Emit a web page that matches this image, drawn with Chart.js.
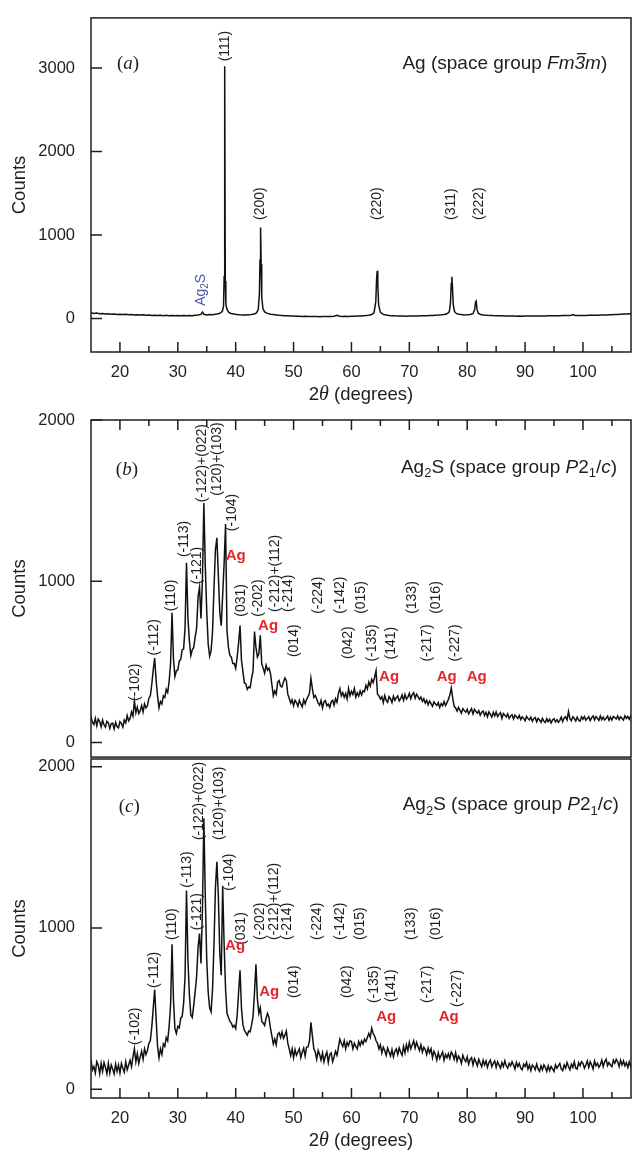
<!DOCTYPE html>
<html><head><meta charset="utf-8">
<script src="https://cdn.jsdelivr.net/npm/chart.js@4.4.0/dist/chart.umd.min.js"></script>
<style>
html,body{margin:0;padding:0;background:#fff;width:632px;height:1155px;overflow:hidden;position:relative}
canvas{position:absolute;left:0}
</style></head><body>
<canvas id="ca" width="632" height="410" style="top:0;width:632px;height:410px"></canvas>
<canvas id="cb" width="632" height="375" style="top:400px;width:632px;height:375px"></canvas>
<canvas id="cc" width="632" height="415" style="top:740px;width:632px;height:415px"></canvas>
<script>
// ---------- axes ----------
const xMin = 15, xMax = 108.3;
const xMajorTicks = [20,30,40,50,60,70,80,90,100];
const xMinorTicks = [25,35,45,55,65,75,85,95,105];
const yTicksA = [0,1000,2000,3000];
const yTicksB = [0,1000,2000];
const yTicksC = [0,1000,2000];

// ---------- panel (a): Ag ----------
const anglesA = [15,15.5,16,16.5,17,17.5,18,18.5,19,19.5,20,20.5,21,21.5,22,22.5,23,23.5,24,24.5,25,25.5,26,26.5,27,27.5,28,28.5,29,29.5,30,30.5,31,31.5,32,32.5,33,33.5,34,34.25,34.5,35,35.5,36,36.5,37,37.4,37.7,37.9,38.0,38.1,38.2,38.3,38.5,38.8,39.2,39.7,40.2,40.7,41.2,41.7,42.2,42.7,43.2,43.6,43.9,44.1,44.2,44.3,44.4,44.5,44.7,45.0,45.5,46,46.5,47,47.5,48,48.5,49,49.5,50,50.5,51,51.5,52,52.5,53,53.5,54,54.5,55,55.5,56,56.5,57,57.5,58,58.5,59,59.5,60,60.5,61,61.5,62,62.5,63,63.5,63.9,64.2,64.35,64.45,64.55,64.7,65,65.5,66,66.5,67,67.5,68,68.5,69,69.5,70,70.5,71,71.5,72,72.5,73,73.5,74,74.5,75,75.5,76,76.5,76.9,77.1,77.25,77.35,77.45,77.6,77.8,78.1,78.5,79,79.5,80,80.5,81,81.3,81.45,81.55,81.7,81.9,82.3,82.8,83.5,84,84.5,85,85.5,86,86.5,87,87.5,88,88.5,89,89.5,90,90.5,91,91.5,92,92.5,93,93.5,94,94.5,95,95.5,96,96.5,97,97.5,98,98.3,98.6,99,99.5,100,100.5,101,101.5,102,102.5,103,103.5,104,104.5,105,105.5,106,106.5,107,107.5,108,108.5];
const countsA = [70,62,66,58,62,55,58,52,56,50,53,48,51,46,49,44,47,42,45,40,43,38,41,36,40,35,39,34,38,33,37,33,36,33,38,35,40,42,50,78,52,44,48,46,52,58,68,90,150,500,3020,450,170,110,75,62,55,50,46,44,42,45,48,55,68,110,300,700,1090,650,260,120,80,62,52,48,44,40,38,35,34,31,30,28,29,26,27,25,26,24,25,23,25,24,26,24,28,40,28,26,27,26,28,27,30,30,33,36,40,48,70,200,480,572,420,160,75,50,42,38,35,33,32,30,31,29,30,30,31,32,33,34,35,37,38,40,42,45,50,58,80,180,420,500,380,160,85,62,52,48,44,45,48,58,110,200,209,110,65,50,44,40,38,36,35,34,33,32,31,30,30,29,30,29,30,30,31,30,31,31,32,32,33,33,34,34,35,36,37,38,40,48,38,38,37,38,38,39,40,40,41,42,43,44,45,46,48,50,52,54,56,58,60];

// ---------- panels (b) and (c): Ag2S, sampled every 0.25 deg from 15 deg ----------
const angleStart = 15, angleStep = 0.25;
const countsB = [
158,126,112,150, 104,146,130,98, 140,110,96,132, 122,88,118,120, 84,126,100,92,
130,118,96,140, 122,168,135,150, 190,165,258,185, 220,180,198,230, 190,240,215,228,
275,290,360,450, 524,385,290,215, 255,240,290,280, 330,310,380,490, 805,520,410,445,
450,505,515,575, 580,710,1115,770, 630,540,575,590, 655,710,905,962, 770,1010,1486,1090,
810,610,535,570, 690,960,1195,1270, 1040,810,725,915, 1110,1355,690,590, 540,530,490,490,
460,530,615,725, 510,440,370,365, 330,345,340,400, 445,688,590,530, 550,665,490,460,
430,480,450,462, 430,360,290,320, 300,375,385,350, 345,375,400,385, 300,275,245,265,
228,262,248,225, 262,238,222,265, 240,268,285,305, 398,335,280,292, 270,245,232,262,
215,252,260,228, 238,218,252,262, 232,272,250,305, 335,290,310,280, 305,270,335,290,
318,298,335,282, 308,288,320,295, 322,315,355,332, 375,350,392,372, 405,445,300,290,
270,285,248,292, 262,250,285,272, 248,288,262,278, 290,258,272,295, 262,298,270,282,
305,272,298,310, 275,300,285,268, 282,255,272,245, 262,235,258,242, 225,252,240,230,
248,218,242,228, 255,230,248,268, 295,338,275,225, 215,195,218,200, 182,210,198,188,
206,178,195,210, 178,206,192,182, 198,170,188,196, 168,188,160,190, 175,158,188,165,
190,162,175,186, 150,180,170,158, 178,150,165,172, 146,170,160,150, 168,142,160,150,
135,162,150,140, 158,132,148,155, 128,150,140,126, 150,132,124,148, 130,145,122,140,
148,128,142,125, 138,158,130,152, 160,140,192,148, 136,160,150,134, 158,140,132,160,
145,162,138,150, 160,136,155,165, 140,162,150,138, 165,142,158,140, 150,164,138,158,
140,162,155,146, 165,142,160,150, 140,166,150,162, 145,165,148];
const countsC = [
180,120,140,100, 170,150,95,160, 110,165,135,95, 160,100,150,125, 95,155,110,150,
100,160,130,105, 170,120,150,180, 140,200,252,170, 220,160,200,235, 185,250,215,240,
285,300,385,500, 617,440,265,195, 250,215,280,265, 320,300,390,520, 898,555,375,345,
390,380,440,450, 530,700,1232,800, 585,460,445,520, 605,700,880,965, 780,1110,1680,1190,
800,600,505,480, 620,900,1250,1410, 1200,850,706,1262, 900,620,470,445, 420,410,385,395,
375,455,600,737, 500,400,365,350, 335,360,355,400, 450,600,775,560, 470,505,420,410,
395,440,470,445, 380,330,280,310, 275,340,350,320, 355,315,335,360, 285,250,208,250,
195,245,210,230, 250,195,230,255, 205,260,262,300, 415,330,250,230, 185,240,215,180,
225,170,205,230, 165,215,225,170, 200,235,210,260, 310,285,265,300, 250,290,270,300,
295,250,285,265, 250,295,270,300, 280,310,295,320, 345,320,378,345, 330,300,285,250,
275,225,260,240, 210,255,230,205, 245,200,235,250, 215,255,230,210, 265,225,275,240,
290,250,275,300, 255,290,265,240, 275,230,260,245, 215,255,225,250, 195,235,215,180,
225,190,210,230, 180,215,195,220, 190,230,215,185, 225,175,205,190, 160,210,185,170,
200,155,185,195, 150,190,170,145, 185,160,140,180, 150,175,135,165, 180,140,160,175,
135,170,150,130, 165,140,175,145, 130,160,145,170, 150,125,165,140, 160,130,120,155,
140,165,125,150, 115,150,140,120, 155,125,110,145, 120,150,135,110, 145,115,140,125,
110,150,130,145, 160,125,115,150, 130,165,140,120, 155,135,170,130, 125,165,145,170,
160,130,150,175, 135,170,150,125, 175,145,160,135, 150,180,140,170, 185,145,165,150,
140,180,160,185, 170,140,180,150, 175,145,165,135, 170,140,165];

// ---------- reflection labels: [text, angle, counts at text start] ----------
const peakLabelsA = [['(111)',38.1,3080],['(200)',44.3,1180],['(220)',64.4,1180],['(311)',77.3,1180],['(222)',82.0,1180]];
const impurityLabelA = [34.1,153];
const peakLabelsB = [['(-102)',22.6,258],['(-112)',25.97,540],['(110)',28.9,815],['(-113)',31.1,1150],['(-121)',33.3,982],
  ['(-122)+(022)',34.25,1490],['(120)+(103)',36.85,1530],['(-104)',39.4,1311],['(031)',40.9,780],['(-202)',43.87,780],
  ['(-212)+(112)',46.75,810],['(-214)',49.0,810],['(014)',50.15,530],['(-224)',54.2,798],['(-142)',58.1,798],['(015)',61.7,798],
  ['(042)',59.4,518],['(-135)',63.65,502],['(141)',66.9,515],['(133)',70.4,798],['(016)',74.7,798],['(-217)',73.0,502],['(-227)',78.0,502]];
const agLabelsB = [[40.0,1157],[45.6,725],[66.5,408],[76.45,408],[81.65,408]];
const peakLabelsC = [['(-102)',22.7,274],['(-112)',25.97,627],['(110)',29.0,925],['(-113)',31.65,1250],['(-121)',33.3,985],
  ['(-122)+(022)',33.6,1545],['(120)+(103)',37.15,1545],['(-104)',38.85,1230],['(031)',40.95,895],['(-202)',44.2,925],
  ['(-212)+(112)',46.66,925],['(-214)',48.96,925],['(014)',50.1,565],['(-224)',54.1,925],['(-142)',58.1,925],['(015)',61.5,925],
  ['(042)',59.3,565],['(-135)',63.85,534],['(141)',66.9,540],['(133)',70.35,925],['(016)',74.7,925],['(-217)',73.0,534],['(-227)',78.2,509]];
const agLabelsC = [[39.9,888],[45.8,602],[66.0,451],[76.8,451]];

// ---------- styling ----------
const SANS = '"Liberation Sans", Arial, Helvetica, sans-serif';
const SERIF = '"Liberation Serif", "Times New Roman", serif';
const INK = '#1e1e1e';
const RED = '#e3262c';
const BLUE = '#4a57a8';

function drawRich(ctx, segs, x, y, align) {
  let w = 0;
  segs.forEach(s => { ctx.font = s.f; s.w = ctx.measureText(s.t).width; w += s.w; });
  let cx = align === 'right' ? x - w : (align === 'center' ? x - w / 2 : x);
  segs.forEach(s => {
    ctx.font = s.f;
    ctx.fillText(s.t, cx, y + (s.dy || 0));
    if (s.over) {
      ctx.save(); ctx.lineWidth = 1.3; ctx.strokeStyle = ctx.fillStyle;
      ctx.beginPath(); ctx.moveTo(cx + 2.5, y - 10.5); ctx.lineTo(cx + s.w + 1, y - 10.5); ctx.stroke(); ctx.restore();
    }
    cx += s.w;
  });
}

function panelPlugin(o) {
  return {
    id: 'panel' + o.name,
    afterDraw(chart) {
      const { ctx, chartArea: a, scales: { x, y } } = chart;
      ctx.save();
      ctx.strokeStyle = INK; ctx.lineWidth = 1.5;
      ctx.strokeRect(a.left, a.top, a.right - a.left, a.bottom - a.top);
      ctx.beginPath();
      const allX = xMajorTicks.map(v => [v, 10]).concat(xMinorTicks.map(v => [v, 6]));
      allX.forEach(([v, len]) => {
        const px = x.getPixelForValue(v);
        if (o.xPos === 'bottom') { ctx.moveTo(px, a.bottom); ctx.lineTo(px, a.bottom - len); }
        else { ctx.moveTo(px, a.top); ctx.lineTo(px, a.top + len); }
      });
      o.yTicks.forEach(v => { const py = y.getPixelForValue(v); ctx.moveTo(a.left, py); ctx.lineTo(a.left + 11, py); });
      ctx.stroke();

      ctx.fillStyle = INK; ctx.textBaseline = 'middle';
      ctx.save(); ctx.translate(20, (a.top + a.bottom) / 2); ctx.rotate(-Math.PI / 2);
      ctx.font = '18.5px ' + SANS; ctx.textAlign = 'center'; ctx.fillText('Counts', 0, 0); ctx.restore();
      ctx.textAlign = 'left';
      if (o.xTitle) {
        drawRich(ctx, [{ t: '2', f: '18.5px ' + SANS }, { t: 'θ', f: 'italic 20px ' + SERIF }, { t: ' (degrees)', f: '18.5px ' + SANS }],
          (a.left + a.right) / 2, a.bottom + 43, 'center');
      }

      const lx = x.getPixelForValue(o.letterAt[0]), ly = y.getPixelForValue(o.letterAt[1]);
      drawRich(ctx, [{ t: '(', f: '19px ' + SERIF }, { t: o.letter, f: 'italic 19px ' + SERIF }, { t: ')', f: '19px ' + SERIF }], lx, ly, 'center');

      const tx = x.getPixelForValue(o.titleAt[0]), ty = y.getPixelForValue(o.titleAt[1]);
      drawRich(ctx, o.title, tx, ty, 'right');

      ctx.font = '14px ' + SANS;
      o.peaks.forEach(([t, ang, c]) => {
        ctx.save(); ctx.translate(x.getPixelForValue(ang), y.getPixelForValue(c)); ctx.rotate(-Math.PI / 2);
        ctx.fillText(t, 0, 0); ctx.restore();
      });
      if (o.impurity) {
        ctx.save(); ctx.fillStyle = BLUE;
        ctx.translate(x.getPixelForValue(o.impurity[0]), y.getPixelForValue(o.impurity[1])); ctx.rotate(-Math.PI / 2);
        drawRich(ctx, [{ t: 'Ag', f: '14px ' + SANS }, { t: '2', f: '10px ' + SANS, dy: 4 }, { t: 'S', f: '14px ' + SANS }], 0, 0, 'left');
        ctx.restore();
      }
      ctx.fillStyle = RED; ctx.font = 'bold 15px ' + SANS; ctx.textAlign = 'center';
      (o.ag || []).forEach(([ang, c]) => ctx.fillText('Ag', x.getPixelForValue(ang), y.getPixelForValue(c)));
      ctx.restore();
    }
  };
}

function makeChart(id, pts, o) {
  return new Chart(document.getElementById(id), {
    type: 'line',
    data: { datasets: [{ data: pts, borderColor: '#111', borderWidth: o.lw, pointRadius: 0, tension: 0, fill: false }] },
    options: {
      responsive: false, animation: false, devicePixelRatio: 1, parsing: false, normalized: true,
      layout: { padding: { top: o.padTop, bottom: o.padBottom, left: 0, right: 1 } },
      plugins: { legend: { display: false }, tooltip: { enabled: false } },
      scales: {
        x: {
          type: 'linear', min: xMin, max: xMax, position: o.xPos,
          grid: { display: false }, border: { display: false },
          ticks: { display: o.xLabels, autoSkip: false, maxRotation: 0, padding: 3, color: INK,
            font: { family: SANS, size: 16.5 }, callback: v => xMajorTicks.includes(v) ? String(v) : '' },
          afterBuildTicks: s => { s.ticks = xMajorTicks.concat(xMinorTicks).sort((p, q) => p - q).map(v => ({ value: v })); },
          afterFit: s => { s.height = o.xAxisH; }
        },
        y: {
          type: 'linear', min: o.ymin, max: o.ymax,
          grid: { display: false }, border: { display: false },
          ticks: { autoSkip: false, padding: 8, color: INK, font: { family: SANS, size: 16.5 }, callback: v => String(v) },
          afterBuildTicks: s => { s.ticks = o.yTicks.map(v => ({ value: v })); },
          afterFit: s => { s.width = 91; }
        }
      }
    },
    plugins: [panelPlugin(o)]
  });
}

const ptsA = anglesA.map((a, i) => ({ x: a, y: countsA[i] }));
const ptsB = countsB.map((c, i) => ({ x: angleStart + i * angleStep, y: c }));
const ptsC = countsC.map((c, i) => ({ x: angleStart + i * angleStep, y: c }));

const T19 = '19px ' + SANS, I19 = 'italic 19px ' + SANS, S13 = '13px ' + SANS;
const ag2sTitle = [{ t: 'Ag', f: T19 }, { t: '2', f: S13, dy: 6 }, { t: 'S (space group ', f: T19 }, { t: 'P', f: I19 },
  { t: '2', f: T19 }, { t: '1', f: S13, dy: 6 }, { t: '/', f: T19 }, { t: 'c', f: I19 }, { t: ')', f: T19 }];

makeChart('ca', ptsA, {
  name: 'A', lw: 1.5, ymin: -400, ymax: 3600, yTicks: yTicksA, xPos: 'bottom', xLabels: true, xTitle: true,
  padTop: 13, padBottom: 0, xAxisH: 58,
  letter: 'a', letterAt: [21.4, 3046], titleAt: [104.2, 3046],
  title: [{ t: 'Ag (space group ', f: T19 }, { t: 'Fm', f: I19 }, { t: '3', f: I19, over: true }, { t: 'm', f: I19 }, { t: ')', f: T19 }],
  peaks: peakLabelsA, impurity: impurityLabelA, ag: []
});
makeChart('cb', ptsB, {
  name: 'B', lw: 1.5, ymin: -90, ymax: 2000, yTicks: yTicksB, xPos: 'top', xLabels: false, xTitle: false,
  padTop: 20, padBottom: 16, xAxisH: 0,
  letter: 'b', letterAt: [21.2, 1691], titleAt: [105.9, 1703], title: ag2sTitle,
  peaks: peakLabelsB, ag: agLabelsB
});
makeChart('cc', ptsC, {
  name: 'C', lw: 1.5, ymin: -55, ymax: 2048, yTicks: yTicksC, xPos: 'bottom', xLabels: true, xTitle: true,
  padTop: 19, padBottom: 0, xAxisH: 57,
  letter: 'c', letterAt: [21.6, 1752], titleAt: [106.2, 1763], title: ag2sTitle,
  peaks: peakLabelsC, ag: agLabelsC
});
</script>
</body></html>
